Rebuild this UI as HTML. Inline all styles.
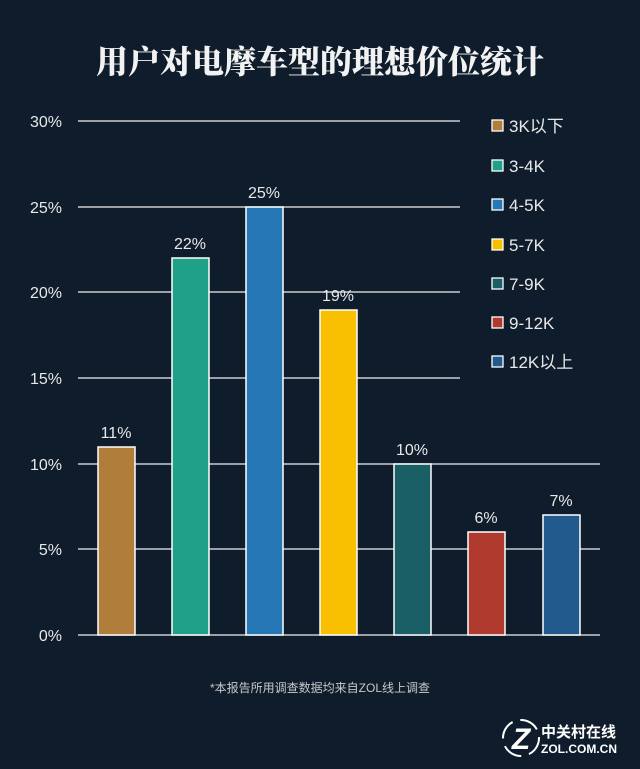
<!DOCTYPE html>
<html><head><meta charset="utf-8"><style>
body{margin:0;background:#0f1c2b;}
svg{display:block}
</style></head><body>
<svg width="640" height="769" xmlns="http://www.w3.org/2000/svg" font-family="Liberation Sans, Noto Sans CJK SC, sans-serif">
<rect width="640" height="769" fill="#0f1c2b"/>
<text x="320" y="73" text-anchor="middle" fill="#f2f2f2" font-size="32" font-weight="900" font-family="Noto Serif CJK SC, serif">用户对电摩车型的理想价位统计</text>
<g stroke="#f0f0f0" stroke-width="1.3">
<line x1="78" y1="121" x2="460" y2="121"/>
<line x1="78" y1="207" x2="460" y2="207"/>
<line x1="78" y1="292" x2="460" y2="292"/>
<line x1="78" y1="378" x2="460" y2="378"/>
<line x1="78" y1="464" x2="600" y2="464"/>
<line x1="78" y1="549" x2="600" y2="549"/>
<line x1="78" y1="635" x2="600" y2="635"/>
</g>
<g fill="#e8e8e8" font-size="16" text-anchor="end">
<text x="62" y="127">30%</text>
<text x="62" y="213">25%</text>
<text x="62" y="298">20%</text>
<text x="62" y="384">15%</text>
<text x="62" y="470">10%</text>
<text x="62" y="555">5%</text>
<text x="62" y="641">0%</text>
</g>
<g stroke="#ffffff" stroke-width="1.5">
<rect x="98" y="447" width="37" height="188" fill="#b07d3b"/>
<rect x="172" y="258" width="37" height="377" fill="#1fa089"/>
<rect x="246" y="207" width="37" height="428" fill="#2578b5"/>
<rect x="320" y="310" width="37" height="325" fill="#f8c000"/>
<rect x="394" y="464" width="37" height="171" fill="#1b5f66"/>
<rect x="468" y="532" width="37" height="103" fill="#b03a2e"/>
<rect x="543" y="515" width="37" height="120" fill="#235a8e"/>
</g>
<g fill="#e8e8e8" font-size="16" text-anchor="middle">
<text x="116" y="438">11%</text>
<text x="190" y="249">22%</text>
<text x="264" y="198">25%</text>
<text x="338" y="301">19%</text>
<text x="412" y="455">10%</text>
<text x="486" y="523">6%</text>
<text x="561" y="506">7%</text>
</g>
<g stroke="#ffffff" stroke-width="1.3">
<rect x="492" y="120" width="11" height="11" fill="#b07d3b"/>
<rect x="492" y="160" width="11" height="11" fill="#1fa089"/>
<rect x="492" y="199" width="11" height="11" fill="#2578b5"/>
<rect x="492" y="239" width="11" height="11" fill="#f8c000"/>
<rect x="492" y="278" width="11" height="11" fill="#1b5f66"/>
<rect x="492" y="317" width="11" height="11" fill="#b03a2e"/>
<rect x="492" y="356" width="11" height="11" fill="#235a8e"/>
</g>
<g fill="#e8e8e8" font-size="17">
<text x="509" y="132">3K以下</text>
<text x="509" y="172">3-4K</text>
<text x="509" y="211">4-5K</text>
<text x="509" y="251">5-7K</text>
<text x="509" y="290">7-9K</text>
<text x="509" y="329">9-12K</text>
<text x="509" y="368">12K以上</text>
</g>
<text x="320" y="692" text-anchor="middle" fill="#c8c8c8" font-size="12">*本报告所用调查数据均来自ZOL线上调查</text>
<g>
<circle cx="521" cy="738" r="18" fill="none" stroke="#fff" stroke-width="2" stroke-dasharray="20 8"/>
<text x="521" y="749" text-anchor="middle" fill="#fff" font-size="30" font-weight="bold" font-style="italic">Z</text>
<text x="541" y="737" fill="#fff" font-size="15" font-weight="bold">中关村在线</text>
<text x="541" y="753" fill="#fff" font-size="12" font-weight="bold">ZOL.COM.CN</text>
</g>
</svg>
</body></html>
